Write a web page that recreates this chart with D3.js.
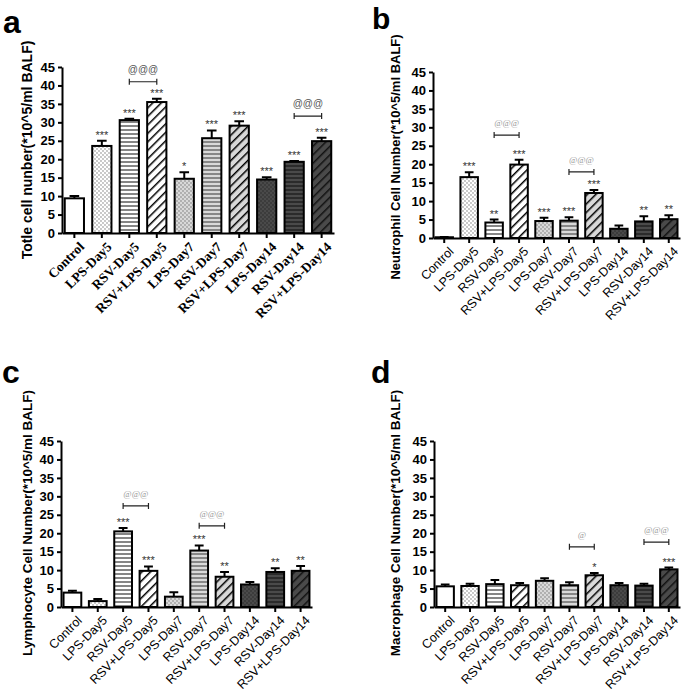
<!DOCTYPE html>
<html><head><meta charset="utf-8">
<script src="https://cdn.jsdelivr.net/npm/d3@7"></script>
<style>body{margin:0;background:#fff}svg{display:block}</style>
</head><body>
<script>
const categories = ["Control","LPS-Day5","RSV-Day5","RSV+LPS-Day5","LPS-Day7","RSV-Day7","RSV+LPS-Day7","LPS-Day14","RSV-Day14","RSV+LPS-Day14"];
const yTickValues = [0,5,10,15,20,25,30,35,40,45];

const totalMean = [9.4,23.6,30.6,35.5,14.7,25.7,29.1,14.5,19.3,24.9];
const totalErr  = [0.6,1.4,0.4,0.9,1.8,2.1,1.2,0.6,0.2,0.9];
const totalSig  = ["","***","***","***","*","***","***","***","***","***"];
const totalBrackets = [{from:2,to:3,y:41,label:"@@@"},{from:8,to:9,y:31.7,label:"@@@"}];

const neutroMean = [0.2,16.5,4.2,19.9,4.6,4.7,12.2,2.5,4.5,5.1];
const neutroErr  = [0.1,1.3,0.8,1.3,0.9,0.9,0.8,0.9,1.4,1.1];
const neutroSig  = ["","***","**","***","***","***","***","","**","**"];
const neutroBrackets = [{from:2,to:3,y:27.9,label:"@@@"},{from:5,to:6,y:17.9,label:"@@@"}];

const lymphoMean = [3.9,1.6,20.5,9.8,2.8,15.3,8.2,6.1,9.5,9.8];
const lymphoErr  = [0.5,0.6,0.9,1.2,1.2,1.4,1.3,0.7,1.0,1.3];
const lymphoSig  = ["","","***","***","","***","**","","**","**"];
const lymphoBrackets = [{from:2,to:3,y:27.4,label:"@@@"},{from:5,to:6,y:22,label:"@@@"}];

const macroMean = [5.6,5.7,6.2,5.9,7.1,5.9,8.6,5.9,5.8,10.2];
const macroErr  = [0.5,0.6,1.1,0.6,0.7,0.8,0.6,0.6,0.5,0.5];
const macroSig  = ["","","","","","","*","","","***"];
const macroBrackets = [{from:5,to:6,y:16.3,label:"@"},{from:8,to:9,y:17.6,label:"@@@"}];

const panelLetters = ["a","b","c","d"];
const yLabels = ["Totle cell nunber(*10^5/ml BALF)","Neutrophil Cell Number(*10^5/ml BALF)","Lymphocyte Cell Number(*10^5/ml BALF)","Macrophage Cell Number(*10^5/ml BALF)"];

const W = 685, H = 692;
const svg = d3.select("body").append("svg").attr("width", W).attr("height", H)
  .style("font-family","Arial, 'Liberation Sans', sans-serif");

const defs = svg.append("defs");
const bgs = {w:"#ffffff", l:"#d9d9d9", d:"#4a4a4a"};
function dots(id, bg, dot){
  const p = defs.append("pattern").attr("id",id).attr("patternUnits","userSpaceOnUse").attr("width",4).attr("height",4);
  p.append("rect").attr("width",4).attr("height",4).attr("fill",bg);
  p.append("circle").attr("cx",1).attr("cy",1).attr("r",0.65).attr("fill",dot);
  p.append("circle").attr("cx",3).attr("cy",3).attr("r",0.65).attr("fill",dot);
}
function hlines(id, bg, col){
  const p = defs.append("pattern").attr("id",id).attr("patternUnits","userSpaceOnUse").attr("width",4).attr("height",4);
  p.append("rect").attr("width",4).attr("height",4).attr("fill",bg);
  p.append("line").attr("x1",0).attr("x2",4).attr("y1",2).attr("y2",2).attr("stroke",col).attr("stroke-width",1.1);
}
function diag(id, bg, col){
  const p = defs.append("pattern").attr("id",id).attr("patternUnits","userSpaceOnUse").attr("width",6).attr("height",6)
    .attr("patternTransform","rotate(45)");
  p.append("rect").attr("width",6).attr("height",6).attr("fill",bg);
  p.append("line").attr("x1",0).attr("x2",0).attr("y1",0).attr("y2",6).attr("stroke",col).attr("stroke-width",3);
}
dots("dw", bgs.w, "#666"); hlines("hw", bgs.w, "#222"); diag("gw", bgs.w, "#000");
dots("dl", bgs.l, "#666"); hlines("hl", bgs.l, "#444"); diag("gl", bgs.l, "#000");
dots("dd", bgs.d, "#222"); hlines("hd", bgs.d, "#111"); diag("gd", bgs.d, "#111");
const fills = ["#ffffff","url(#dw)","url(#hw)","url(#gw)","url(#dl)","url(#hl)","url(#gl)","url(#dd)","url(#hd)","url(#gd)"];

const panels = [
  {mean:totalMean, err:totalErr, sig:totalSig, br:totalBrackets, x0:62, x1:334, yTop:67, yBot:233, serif:true,
   letter:[3,33], ylab:[32,150], ylabSize:14, brColor:"#555", brSize:10},
  {mean:neutroMean, err:neutroErr, sig:neutroSig, br:neutroBrackets, x0:433, x1:680, yTop:72, yBot:238, serif:false,
   letter:[372,29], ylab:[400,157], ylabSize:13, brColor:"#999", brSize:9},
  {mean:lymphoMean, err:lymphoErr, sig:lymphoSig, br:lymphoBrackets, x0:61, x1:312, yTop:441, yBot:607, serif:false,
   letter:[2,383], ylab:[32,523], ylabSize:13.5, brColor:"#999", brSize:9},
  {mean:macroMean, err:macroErr, sig:macroSig, br:macroBrackets, x0:434, x1:680, yTop:441, yBot:607, serif:false,
   letter:[371,383], ylab:[400,523], ylabSize:13.5, brColor:"#999", brSize:9}
];

panels.forEach((p, pi) => {
  const g = svg.append("g");
  const x = d3.scaleBand().domain(categories).range([p.x0, p.x1]).paddingInner(0.3).paddingOuter(0.1);
  const y = d3.scaleLinear().domain([0,45]).range([p.yBot, p.yTop]);

  g.append("text").attr("x",p.letter[0]).attr("y",p.letter[1]).text(panelLetters[pi])
    .attr("font-size", pi===1 ? 30 : 32).attr("font-weight","bold").attr("fill","#000");

  g.append("text").attr("transform",`translate(${p.ylab[0]},${p.ylab[1]}) rotate(-90)`)
    .attr("text-anchor","middle").attr("font-size",p.ylabSize).attr("font-weight","bold").text(yLabels[pi]);

  const data = categories.map((c,i)=>({c, i, m:p.mean[i], e:p.err[i], s:p.sig[i]}));
  g.selectAll("rect.bar").data(data).join("rect").attr("class","bar")
    .attr("x", d=>x(d.c)).attr("width", x.bandwidth())
    .attr("y", d=>y(d.m)).attr("height", d=>Math.max(0, y(0)-y(d.m)))
    .attr("fill", d=>fills[d.i]).attr("stroke","#000").attr("stroke-width",2);

  const cw = x.bandwidth()*0.5;
  g.selectAll("path.err").data(data).join("path").attr("class","err")
    .attr("d", d=>{const cx=x(d.c)+x.bandwidth()/2; return `M${cx},${y(d.m)}V${y(d.m+d.e)}M${cx-cw/2},${y(d.m+d.e)}H${cx+cw/2}`;})
    .attr("stroke","#000").attr("stroke-width",2).attr("fill","none");

  g.selectAll("text.sig").data(data.filter(d=>d.s)).join("text").attr("class","sig")
    .attr("x", d=>x(d.c)+x.bandwidth()/2).attr("y", d=>y(d.m+d.e)-2)
    .attr("text-anchor","middle").attr("font-size",11).attr("fill","#333").text(d=>d.s);

  p.br.forEach(b=>{
    const xa = x(categories[b.from])+x.bandwidth()/2, xb = x(categories[b.to])+x.bandwidth()/2, yy = y(b.y);
    g.append("path").attr("d",`M${xa},${yy-3}V${yy+3}M${xa},${yy}H${xb}M${xb},${yy-3}V${yy+3}`)
      .attr("stroke","#222").attr("stroke-width",1.2).attr("fill","none");
    g.append("text").attr("x",(xa+xb)/2).attr("y",yy-9).attr("text-anchor","middle")
      .attr("font-size",p.brSize).attr("fill",p.brColor)
      .attr("font-family", pi===0 ? "Arial, sans-serif" : "'Liberation Serif', serif")
      .attr("font-style", pi===0 ? "normal":"italic").text(b.label);
  });

  const ya = g.append("g").attr("transform",`translate(${p.x0},0)`)
    .call(d3.axisLeft(y).tickValues(yTickValues).tickSize(4).tickSizeOuter(0).tickPadding(3));
  ya.select(".domain").attr("stroke","#000").attr("stroke-width",2);
  ya.selectAll(".tick line").attr("stroke","#000").attr("stroke-width",2);
  ya.selectAll(".tick text").attr("font-size",13).attr("font-weight","bold").attr("fill","#000")
    .attr("font-family","Arial, 'Liberation Sans', sans-serif");

  const xa = g.append("g").attr("transform",`translate(0,${p.yBot})`)
    .call(d3.axisBottom(x).tickSize(5).tickSizeOuter(0));
  xa.select(".domain").attr("stroke","#000").attr("stroke-width",2);
  xa.selectAll(".tick line").attr("stroke","#000").attr("stroke-width",2);
  xa.selectAll(".tick text")
    .attr("text-anchor","end").attr("transform","translate(4,8) rotate(-45)").attr("y",0).attr("x",0).attr("dy","0.7em")
    .attr("fill","#000")
    .attr("font-size", p.serif ? 13.5 : 12.5)
    .attr("font-weight", p.serif ? "bold" : "normal")
    .attr("font-family", p.serif ? "'Liberation Serif', 'Times New Roman', serif" : "Arial, 'Liberation Sans', sans-serif");
});
</script>
</body></html>
